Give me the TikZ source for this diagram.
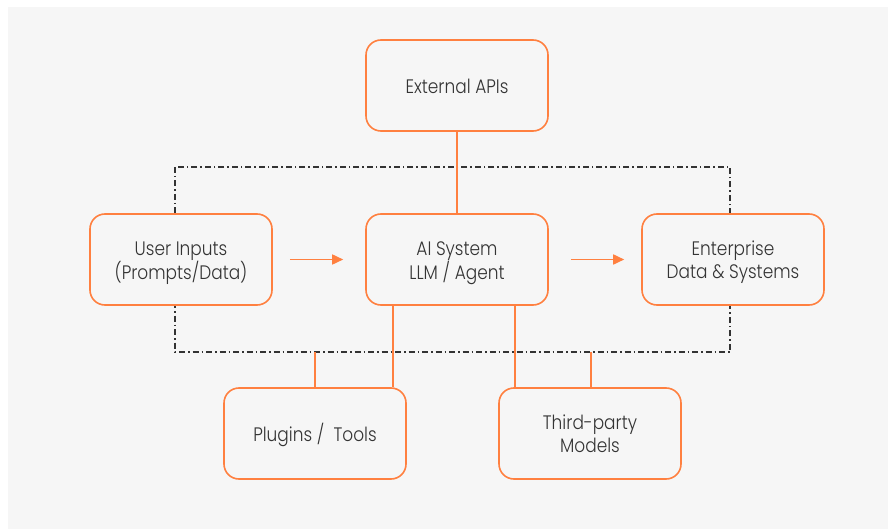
\documentclass[tikz,border=0pt]{standalone}
\usepackage{fontspec}
\IfFontExistsTF{Poppins Light}{\setmainfont{Poppins Light}[FakeStretch=0.87]}{\setmainfont{Poppins}[FakeStretch=0.87]}
\usetikzlibrary{arrows.meta}
\definecolor{bggray}{RGB}{246,246,246}
\definecolor{orng}{RGB}{255,128,64}
\definecolor{txt}{RGB}{52,52,52}
\definecolor{dd}{RGB}{51,51,51}
\newcommand\topstrut{\rule{0pt}{20.6pt}}
\newcommand\botstrut{\rule[-5pt]{0pt}{5pt}}
\begin{document}
\begin{tikzpicture}[x=1pt,y=-1pt,
  box/.style={draw=orng, line width=1.6pt, rounded corners=15pt, fill=bggray,
    minimum width=182pt, minimum height=91pt, text=txt, align=center,
    font=\fontsize{19.5}{23}\selectfont, inner sep=0pt},
  link/.style={draw=orng, line width=1.4pt},
  flow/.style={link, line width=1.7pt, -{Triangle[length=11pt,width=10pt]}},
  frame/.style={draw=dd, line width=1.1pt, dash pattern=on 6pt off 3pt on 1.5pt off 3pt}]
\useasboundingbox (0,0) rectangle (888,529);
\fill[white] (0,0) rectangle (888,529);
\fill[bggray] (8,7) rectangle (888,529);
\draw[frame] (175,167) rectangle (730,352);
\node[box] (ext) at (457,85.5) {\topstrut External APIs\botstrut};
\node[box] (user) at (181,259.5) {\topstrut User Inputs\\(Prompts/Data)\botstrut};
\node[box] (ai) at (457,259.5) {\topstrut AI System\\LLM / Agent\botstrut};
\node[box] (ent) at (733,259.5) {\topstrut Enterprise\\Data \& Systems\botstrut};
\node[box] (plug) at (315,433.5) {\topstrut Plugins /\ \ Tools\botstrut};
\node[box] (third) at (590,433.5) {\topstrut Third-party\\Models\botstrut};
\coordinate (fb1) at (315,352);
\coordinate (fb2) at (591,352);
\draw[link] (ext.south) -- (ai.north);
\draw[link] ([xshift=-64pt]ai.south) -- ([xshift=-64pt]ai.south |- plug.north);
\draw[link] ([xshift=58pt]ai.south) -- ([xshift=58pt]ai.south |- third.north);
\draw[link] (fb1) -- (plug.north);
\draw[link] (fb2) -- (fb2 |- third.north);
\draw[flow] ([xshift=17pt]user.east) -- ([xshift=-22pt]ai.west);
\draw[flow] ([xshift=22pt]ai.east) -- ([xshift=-17pt]ent.west);
\end{tikzpicture}
\end{document}
